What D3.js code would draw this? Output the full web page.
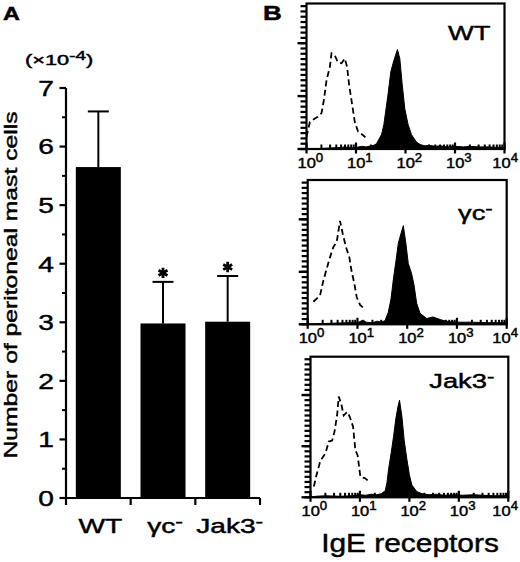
<!DOCTYPE html>
<html>
<head>
<meta charset="utf-8">
<script src="https://cdn.jsdelivr.net/npm/d3@7"></script>
<style>
body{margin:0;background:#fff}
svg{display:block}
text{font-family:"Liberation Sans",Arial,Helvetica,sans-serif;fill:#000;stroke:#000;stroke-width:0.45}
</style>
</head>
<body>
<script>
// ---- A: peritoneal mast cells (x10^4) ----
var groups = ['WT', 'γc', 'Jak3'];
var knockout = [false, true, true];
var cellMeans = [5.65, 2.98, 3.01];
var cellSD = [0.95, 0.71, 0.78];
var significant = [false, true, true];
var yTicks = [0, 1, 2, 3, 4, 5, 6, 7];
var yMinor = [0.5, 1.5, 2.5, 3.5, 4.5, 5.5, 6.5];

// ---- B: IgE receptor histograms (fluorescence, events) ----
var decades = [1, 10, 100, 1000, 10000];
var decadeExp = ['0', '1', '2', '3', '4'];
var countTicks = d3.range(0, 271, 10);
var countMajor = [0, 100, 200];

var wtIgeX = [1, 2, 5, 6, 8, 10, 13, 16, 20, 23, 26, 33, 36.5, 43.9, 50.5, 56.1, 62.8, 68.9, 76.7, 85.4, 96.8, 113, 132, 167, 200, 250, 300, 400, 500, 700, 1000, 1500, 2000, 3000, 5000, 7000, 10000];
var wtIgeN = [0, 1, 3, 4, 2, 3, 5, 4, 6, 7, 10, 28, 46, 100, 146, 162, 177, 188, 171, 124, 76, 46, 27, 13, 8, 6, 7, 5, 6, 4, 5, 4, 5, 4, 4, 3, 3];
var wtCtrlX = [1.0, 1.17, 1.34, 1.69, 2.01, 2.24, 2.54, 2.96, 3.2, 3.73, 4.29, 5.09, 5.94, 6.61, 7.26, 8.11, 9.46, 11.0, 13.9, 15.5];
var wtCtrlN = [23, 51, 55, 61, 68, 92, 130, 155, 181, 177, 164, 162, 171, 155, 121, 92, 51, 33, 26, 22];

var gcIgeX = [1, 1.5, 3, 6, 10, 13, 15, 20, 25, 30, 35.8, 41.7, 47.2, 52.6, 59.5, 66.2, 75, 83.5, 93.3, 105, 123, 137, 155, 181, 247, 330, 492, 700, 1000, 2000, 4000, 10000];
var gcIgeN = [0, 1, 2, 3, 3, 8, 4, 3, 6, 4, 7, 23, 48, 85, 121, 154, 173, 188, 157, 116, 96, 75, 40, 21, 11, 14, 8, 5, 4, 4, 3, 3];
var gcCtrlX = [1.30, 1.77, 2.06, 2.41, 2.81, 3.27, 3.83, 4.46, 5.05, 5.89, 6.86, 7.66, 8.64, 9.66, 11.3, 13.5];
var gcCtrlN = [43, 55, 83, 106, 128, 147, 157, 197, 173, 147, 128, 100, 78, 52, 37, 30];

var jkIgeX = [1, 1.3, 2, 4, 7, 10, 13, 17, 22, 27, 32.5, 35.2, 37.9, 43.0, 47.8, 53.4, 58.6, 63.1, 70.6, 78.5, 89.1, 100, 112, 142, 180, 250, 350, 500, 800, 1200, 2000, 3000, 5000, 10000];
var jkIgeN = [0, 2, 3, 2, 3, 5, 4, 6, 5, 7, 13, 29, 55, 88, 119, 155, 177, 190, 158, 111, 74, 44, 24, 11, 7, 5, 6, 4, 5, 4, 5, 4, 3, 3];
var jkCtrlX = [1.17, 1.32, 1.59, 2.01, 2.34, 2.74, 3.05, 3.45, 3.72, 4.16, 4.69, 5.50, 6.20, 7.26, 8.08, 8.99, 10.2, 12.8, 14.3];
var jkCtrlN = [21, 43, 72, 86, 109, 111, 128, 160, 197, 184, 160, 167, 158, 138, 92, 82, 40, 37, 33];

var panels = [
	{name: 'WT', ko: false, ige: d3.zip(wtIgeX, wtIgeN), ctrl: d3.zip(wtCtrlX, wtCtrlN)},
	{name: 'γc', ko: true, ige: d3.zip(gcIgeX, gcIgeN), ctrl: d3.zip(gcCtrlX, gcCtrlN)},
	{name: 'Jak3', ko: true, ige: d3.zip(jkIgeX, jkIgeN), ctrl: d3.zip(jkCtrlX, jkCtrlN)}
];

// layout (scanned figure, panels sit slightly off)
var boxes = [
	{x: 306.5, y: 3.5, w: 198, h: 145.5, nameY: 36.5},
	{x: 307.7, y: 180, w: 199, h: 144.3, nameY: 40},
	{x: 310.5, y: 356.7, w: 197.8, h: 140.6, nameY: 31.5}
];

var svg = d3.select('body').append('svg').attr('width', 520).attr('height', 562);

// text with horizontal stretch, optional superscript
function label(parent, x, y, main, sup, o) {
	var tr = 'translate(' + x + ',' + y + ')';
	if (o.rot) tr += ' rotate(' + o.rot + ')';
	tr += ' scale(' + (o.sx || 1) + ',1)';
	var t = parent.append('text').attr('transform', tr)
		.attr('font-size', o.size).attr('text-anchor', o.anchor || 'start');
	if (o.bold) t.attr('font-weight', 'bold');
	t.append('tspan').text(main);
	if (sup) t.append('tspan').attr('font-size', o.supSize).attr('dy', -o.rise).text(sup);
	if (o.after) t.append('tspan').attr('dy', o.rise).text(o.after);
	return t;
}

// plain tick marks: horizontal (dir 'h') or vertical (dir 'v')
function tickMarks(parent, vals, scale, dir, at, from, to, w) {
	parent.append('g').selectAll('line').data(vals).join('line')
		.attr('x1', function (d) { return dir === 'h' ? at + from : scale(d); })
		.attr('x2', function (d) { return dir === 'h' ? at + to : scale(d); })
		.attr('y1', function (d) { return dir === 'h' ? scale(d) : at + from; })
		.attr('y2', function (d) { return dir === 'h' ? scale(d) : at + to; })
		.attr('stroke', '#000').attr('stroke-width', w);
}

// ================= A =================
var gA = svg.append('g');
var x = d3.scaleBand().domain(groups).range([66, 260]);
var y = d3.scaleLinear().domain([0, 7]).range([498, 88]);
var bw = x.bandwidth();

gA.selectAll('rect.bar').data(groups).join('rect')
	.attr('class', 'bar')
	.attr('x', function (d) { return x(d) + bw * 0.152; })
	.attr('width', bw * 0.696)
	.attr('y', function (d, i) { return y(cellMeans[i]); })
	.attr('height', function (d, i) { return y(0) - y(cellMeans[i]); })
	.attr('fill', '#000');

// error bars (upper only)
var err = gA.selectAll('g.err').data(groups).join('g').attr('class', 'err');
err.append('line')
	.attr('x1', function (d) { return x(d) + bw / 2; })
	.attr('x2', function (d) { return x(d) + bw / 2; })
	.attr('y1', function (d, i) { return y(cellMeans[i]); })
	.attr('y2', function (d, i) { return y(cellMeans[i] + cellSD[i]); });
err.append('line')
	.attr('x1', function (d) { return x(d) + bw / 2 - 10.5; })
	.attr('x2', function (d) { return x(d) + bw / 2 + 10.5; })
	.attr('y1', function (d, i) { return y(cellMeans[i] + cellSD[i]); })
	.attr('y2', function (d, i) { return y(cellMeans[i] + cellSD[i]); });
err.selectAll('line').attr('stroke', '#000').attr('stroke-width', 2);

// asterisks
gA.selectAll('path.star').data(groups.filter(function (d, i) { return significant[i]; })).join('path')
	.attr('class', 'star')
	.attr('d', d3.symbol(d3.symbolAsterisk, 75))
	.attr('transform', function (d) {
		var i = groups.indexOf(d);
		return 'translate(' + (x(d) + bw / 2) + ',' + (y(cellMeans[i] + cellSD[i]) - 9) + ')';
	})
	.attr('fill', 'none').attr('stroke', '#000').attr('stroke-width', 2.8);

// y axis
gA.append('line').attr('x1', 66).attr('x2', 66).attr('y1', y(0)).attr('y2', y(7))
	.attr('stroke', '#000').attr('stroke-width', 2.2);
tickMarks(gA, yTicks, y, 'h', 66, -6.5, 0, 2.2);
tickMarks(gA, yMinor, y, 'h', 66, -4, 0, 2);
yTicks.forEach(function (v) {
	label(gA, 46, y(v) + 7.8, String(v), null, {size: 22, sx: 1.28, anchor: 'middle'});
});

// x axis with ticks between groups
var bounds = groups.map(function (d) { return x(d); }).concat([x.range()[1]]);
gA.append('line').attr('x1', 65).attr('x2', 260).attr('y1', y(0)).attr('y2', y(0))
	.attr('stroke', '#000').attr('stroke-width', 2.2);
tickMarks(gA, bounds, function (d) { return d; }, 'v', y(0), 0, 7, 2.2);
groups.forEach(function (d, i) {
	label(gA, x(d) + bw / 2 + 2, 533, d, knockout[i] ? '-' : null,
		{size: 21, sx: 1.34, anchor: 'middle', supSize: 17, rise: 6});
});

label(gA, 16.5, 285, 'Number of peritoneal mast cells', null, {size: 19, sx: 1.3, anchor: 'middle', rot: -90});
label(gA, 25, 65, '(×10', '-4', {size: 15, sx: 1.45, supSize: 13, rise: 5, after: ')'});
label(svg, 3, 20, 'A', null, {size: 18, bold: true, sx: 1.3});

// ================= B =================
label(svg, 263, 20, 'B', null, {size: 20, bold: true, sx: 1.3});

var minorX = [1, 10, 100, 1000].reduce(function (a, d) {
	return a.concat(d3.range(2, 10).map(function (k) { return k * d; }));
}, []);

panels.forEach(function (p, pi) {
	var b = boxes[pi];
	var g = svg.append('g');
	var xs = d3.scaleLog().domain([1, 1e4]).range([b.x, b.x + b.w]);
	var ys = d3.scaleLinear().domain([0, 275]).range([b.y + b.h, b.y]);
	var bottom = b.y + b.h;

	g.append('clipPath').attr('id', 'clip' + pi).append('rect')
		.attr('x', b.x).attr('y', b.y).attr('width', b.w).attr('height', b.h);

	var area = d3.area()
		.x(function (d) { return xs(d[0]); })
		.y0(ys(0))
		.y1(function (d) { return ys(d[1]); });
	g.append('path').attr('d', area(p.ige)).attr('fill', '#000')
		.attr('stroke', '#000').attr('stroke-width', 1)
		.attr('clip-path', 'url(#clip' + pi + ')');

	var line = d3.line()
		.x(function (d) { return xs(d[0]); })
		.y(function (d) { return ys(d[1]); });
	g.append('path').attr('d', line(p.ctrl)).attr('fill', 'none')
		.attr('stroke', '#000').attr('stroke-width', 1.8).attr('stroke-dasharray', '6,3.5')
		.attr('clip-path', 'url(#clip' + pi + ')');

	// count ticks (left, outward) and log ticks (bottom)
	tickMarks(g, countTicks, ys, 'h', b.x, -6, 0, 2.2);
	tickMarks(g, countMajor, ys, 'h', b.x, -9, 0, 2.4);
	tickMarks(g, minorX, xs, 'v', bottom, -4.5, 0, 2);
	tickMarks(g, decades, xs, 'v', bottom, -6.5, 4.5, 2.2);

	g.append('rect').attr('x', b.x).attr('y', b.y).attr('width', b.w).attr('height', b.h)
		.attr('fill', 'none').attr('stroke', '#000').attr('stroke-width', 2.2);

	decades.forEach(function (d, i) {
		if (i === decades.length - 1) {
			label(g, 518, bottom + 19, '10', decadeExp[i], {size: 15, sx: 1.1, anchor: 'end', supSize: 12, rise: 6});
		} else {
			label(g, xs(d) - 9, bottom + 19, '10', decadeExp[i], {size: 15, sx: 1.1, supSize: 12, rise: 6});
		}
	});

	label(g, b.x + b.w - 14, b.y + b.nameY, p.name, p.ko ? '-' : null,
		{size: 21, sx: 1.3, anchor: 'end', supSize: 17, rise: 6});
});

label(svg, 410, 552, 'IgE receptors', null, {size: 26, sx: 1.15, anchor: 'middle'});
</script>
</body>
</html>
